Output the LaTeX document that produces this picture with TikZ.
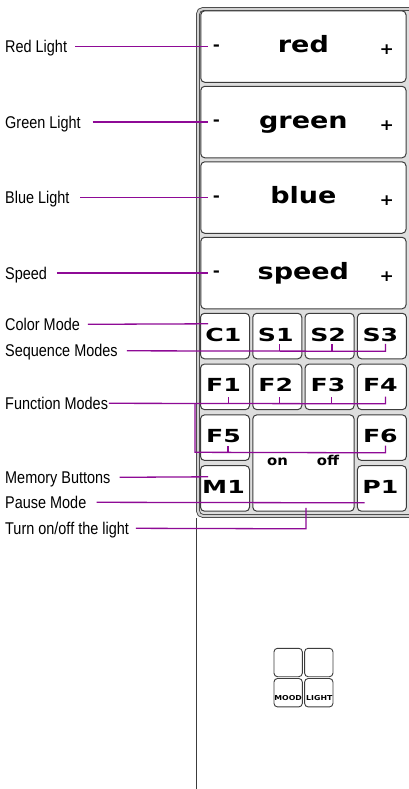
\documentclass[tikz,border=0pt]{standalone}
\usepackage{fontspec}
\usetikzlibrary{calc}
\newfontfamily\labfont[FakeStretch=0.85]{Liberation Sans}
\newfontfamily\keyfont[FakeStretch=1.2]{DejaVu Sans Bold}
\newfontfamily\pmfont[FakeStretch=1.1]{DejaVu Sans Bold}
\newfontfamily\smallkeyfont[FakeStretch=1.4]{DejaVu Sans Bold}
\newfontfamily\onofffont[FakeStretch=1.1]{DejaVu Sans Bold}
\newfontfamily\logofont[FakeStretch=1.15]{DejaVu Sans Bold}
\definecolor{conncol}{RGB}{142,10,150}
\definecolor{edge}{RGB}{60,60,60}
\definecolor{panelgray}{RGB}{222,222,222}
\begin{document}
\begin{tikzpicture}[x=1pt,y=-1pt,
  bigkey/.style={draw=edge, fill=white, line width=1pt, rounded corners=4pt, minimum width=205.2pt, minimum height=71.5pt, inner sep=0pt},
  key/.style={draw=edge, fill=white, line width=1pt, rounded corners=4pt, minimum width=49pt, minimum height=45.5pt, inner sep=0pt},
  logokey/.style={draw=edge, fill=white, line width=0.9pt, rounded corners=3.5pt, minimum width=28.3pt, minimum height=28.4pt, inner sep=0pt},
  lab/.style={anchor=base west, inner sep=0pt, font=\labfont\fontsize{17}{20}\selectfont},
  bigtxt/.style={anchor=base, inner sep=0pt, font=\keyfont\fontsize{22.5}{27}\selectfont},
  pm/.style={inner sep=0pt, font=\pmfont\fontsize{15.5}{18}\selectfont},
  keytxt/.style={anchor=base, inner sep=0pt, font=\smallkeyfont\fontsize{18}{21}\selectfont},
  onofftxt/.style={anchor=base, inner sep=0pt, font=\onofffont\fontsize{13.5}{16}\selectfont},
  logotxt/.style={anchor=base, inner sep=0pt, font=\logofont\fontsize{6.8}{8}\selectfont},
  conn/.style={draw=conncol, line width=1.3pt},
]
\useasboundingbox[fill=white] (0,0) rectangle (408,789);

% panel
\fill[panelgray, rounded corners=5pt] (196.5,7.5) rectangle (414,517);
\draw[edge, line width=0.8pt, double=gray!35, double distance=2.2pt, rounded corners=5pt] (198,9) rectangle (414,516);
\draw[edge, line width=1pt] (196.6,518) -- (196.6,792);

% big keys
\node[bigkey] (red) at (303.4,46.55) {};
\node[bigkey] (green) at (303.4,122.05) {};
\node[bigkey] (blue) at (303.4,197.55) {};
\node[bigkey] (speed) at (303.4,273.05) {};

\foreach \k/\t in {red/red, green/green, blue/blue, speed/speed}{
  \node[bigtxt] (\k t) at ($(\k.center)+(0,6)$) {\t};
  \node[pm] (\k m) at ($(\k.center)+(-87,0.8)$) {-};
  \node[pm] (\k p) at ($(\k.center)+(83.4,3.3)$) {+};
}

% small keys
\node[key] (c1) at (225,336.05) {};
\node[key] (s1) at (277.3,336.05) {};
\node[key] (s2) at (329.6,336.05) {};
\node[key] (s3) at (381.9,336.05) {};
\node[key] (f1) at (225,386.85) {};
\node[key] (f2) at (277.3,386.85) {};
\node[key] (f3) at (329.6,386.85) {};
\node[key] (f4) at (381.9,386.85) {};
\node[key] (f5) at (225,437.65) {};
\node[key] (f6) at (381.9,437.65) {};
\node[key] (m1) at (225,488.45) {};
\node[key] (p1) at (381.9,488.45) {};
\node[key, minimum width=101.3pt, minimum height=96.3pt] (onoff) at (303.45,463.05) {};

\foreach \k/\t in {c1/C1, s1/S1, s2/S2, s3/S3, f1/F1, f2/F2, f3/F3, f4/F4, f5/F5, f6/F6, m1/M1, p1/P1}{
  \node[keytxt] (\k t) at ($(\k.center)+(-1.5,5)$) {\t};
}
\node[onofftxt] (ont) at ($(onoff.north)+(-26,51)$) {on};
\node[onofftxt] (offt) at ($(onoff.north)+(24.5,51)$) {off};

% logo
\node[logokey] (lg1) at (288.15,662.5) {};
\node[logokey] (lg2) at (318.8,662.5) {};
\node[logokey] (lg3) at (288.15,692.7) {};
\node[logokey] (lg4) at (318.8,692.7) {};
\node[logotxt] (moodt) at ($(lg3.center)+(0,7.3)$) {MOOD};
\node[logotxt] (lightt) at ($(lg4.center)+(0.5,7.3)$) {LIGHT};

% labels
\node[lab] (redlab) at (5,52.55) {Red Light};
\node[lab] (greenlab) at (5,128.05) {Green Light};
\node[lab] (bluelab) at (5,203.55) {Blue Light};
\node[lab] (speedlab) at (5,279.05) {Speed};
\node[lab] (colorlab) at (5,330.3) {Color Mode};
\node[lab] (seqlab) at (5,356.8) {Sequence Modes};
\node[lab] (funclab) at (5,409.3) {Function Modes};
\node[lab] (memlab) at (5,483.3) {Memory Buttons};
\node[lab] (pauselab) at (5,508.3) {Pause Mode};
\node[lab] (turnlab) at (5,534.3) {Turn on/off the light};

% connectors
\draw[conn] ($(redlab.base east)+(8,-6)$) -- ($(red.west)+(8,0)$);
\draw[conn] ($(greenlab.base east)+(11.7,-6)$) -- ($(green.west)+(8,0)$);
\draw[conn] ($(bluelab.base east)+(10.7,-6)$) -- ($(blue.west)+(8,0)$);
\draw[conn] ($(speedlab.base east)+(9.7,-6)$) -- ($(speed.west)+(8,0)$);
\draw[conn] ($(colorlab.base east)+(7.7,-6)$) -- ($(c1.north west)+(8,11)$);

\draw[conn] ($(seqlab.base east)+(9,-6)$) -- ($(s3.south west)+(28.5,-8)$) -- ($(s3.south west)+(28.5,-15.5)$);
\draw[conn] ($(s1.south west)+(27.5,-8)$) -- ($(s1.south west)+(27.5,-15.5)$);
\draw[conn] ($(s2.south west)+(27.5,-8)$) -- ($(s2.south west)+(27.5,-15.5)$);

\draw[conn] ($(funclab.base east)+(0.7,-6)$) -- ($(f4.south west)+(28.6,-6.3)$) -- ($(f4.south west)+(28.6,-13.6)$);
\draw[conn] ($(f1.south west)+(28.2,-6.3)$) -- ($(f1.south west)+(28.2,-13.6)$);
\draw[conn] ($(f2.south west)+(27.2,-6.3)$) -- ($(f2.south west)+(27.2,-13.6)$);
\draw[conn] ($(f3.south west)+(27.2,-6.3)$) -- ($(f3.south west)+(27.2,-13.6)$);
\coordinate (fjoin) at (195,403.3);
\coordinate (fturn) at (195,452.3);
\draw[conn] (fjoin) -- (fturn) -- ($(f6.south west)+(28.6,-8.1)$) -- ($(f6.south west)+(28.6,-15.4)$);
\draw[conn] ($(f5.south west)+(28,-8.1)$) -- ($(f5.south west)+(28,-15.4)$);

\draw[conn] ($(memlab.base east)+(9,-6)$) -- ($(m1.north west)+(8,11.6)$);
\draw[conn] ($(pauselab.base east)+(10,-6)$) -- ($(p1.south west)+(7.6,-8.9)$);
\draw[conn] ($(turnlab.base east)+(6.7,-6)$) -- ($(onoff.south)+(2.5,17.1)$) -- ($(onoff.south)+(2.5,-3.9)$);
\end{tikzpicture}
\end{document}
